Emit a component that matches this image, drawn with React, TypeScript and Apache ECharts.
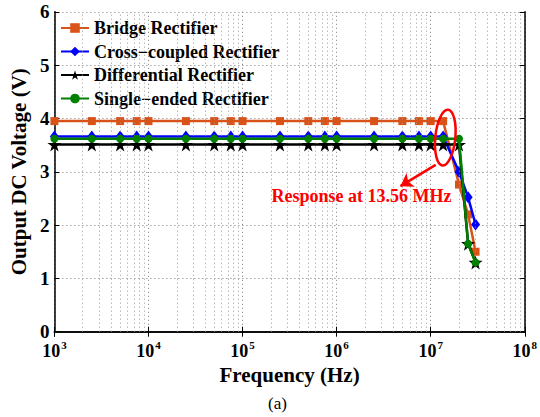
import React, { useEffect, useRef } from "react";
import * as echarts from "echarts";

const frequencies = [1e3, 2.5e3, 5e3, 7.5e3, 1e4, 2.5e4, 5e4, 7.5e4, 1e5, 2.5e5, 5e5, 7.5e5, 1e6, 2.5e6, 5e6, 7.5e6, 1e7, 1.356e7, 2e7, 2.5e7, 3e7];
const bridge = [3.95, 3.95, 3.95, 3.95, 3.95, 3.95, 3.95, 3.95, 3.95, 3.95, 3.95, 3.95, 3.95, 3.95, 3.95, 3.95, 3.95, 3.95, 2.76, 2.2, 1.5];
const crossCoupled = [3.66, 3.66, 3.66, 3.66, 3.66, 3.66, 3.66, 3.66, 3.66, 3.66, 3.66, 3.66, 3.66, 3.66, 3.66, 3.66, 3.66, 3.66, 3.0, 2.52, 2.01];
const differential = [3.51, 3.51, 3.51, 3.51, 3.51, 3.51, 3.51, 3.51, 3.51, 3.51, 3.51, 3.51, 3.51, 3.51, 3.51, 3.51, 3.51, 3.51, 3.51, 1.65, 1.3];
const singleEnded = [3.62, 3.62, 3.62, 3.62, 3.62, 3.62, 3.62, 3.62, 3.62, 3.62, 3.62, 3.62, 3.62, 3.62, 3.62, 3.62, 3.62, 3.62, 3.62, 1.65, 1.3];

const seriesNames = ["Bridge Rectifier", "Cross\u2212coupled Rectifier", "Differential Rectifier", "Single\u2212ended Rectifier"];
const minorGrid = [
  2e3, 3e3, 4e3, 5e3, 6e3, 7e3, 8e3, 9e3,
  2e4, 3e4, 4e4, 5e4, 6e4, 7e4, 8e4, 9e4,
  2e5, 3e5, 4e5, 5e5, 6e5, 7e5, 8e5, 9e5,
  2e6, 3e6, 4e6, 5e6, 6e6, 7e6, 8e6, 9e6,
  2e7, 3e7, 4e7, 5e7, 6e7, 7e7, 8e7, 9e7,
];

const FONT = "Liberation Serif";
const STAR = "path://M50,0 L61,35 L98,35 L68,57 L79,91 L50,70 L21,91 L32,57 L2,35 L39,35 Z";

const gridLine = { color: "#777", type: [1, 3] as number[], width: 1 };

export default function App() {
  const ref = useRef<HTMLDivElement>(null);
  useEffect(() => {
    if (!ref.current) return;
    const chart = echarts.init(ref.current, undefined, { renderer: "svg" });
    const mk = (vals: number[]) => frequencies.map((f, i) => [f, vals[i]]);
    const option: any = {
      animation: false,
      backgroundColor: "#fff",
      grid: { left: 45, right: 12.3, top: 11.8, bottom: 85.3 },
      legend: {
        orient: "vertical",
        left: 60,
        top: 19,
        padding: 0,
        itemWidth: 28,
        itemHeight: 12,
        itemGap: 5.5,
        data: seriesNames,
        textStyle: { fontFamily: FONT, fontWeight: "bold", fontSize: 18, color: "#000", lineHeight: 18 },
      },
      xAxis: [
        {
          type: "log",
          logBase: 10,
          min: 1e3,
          max: 1e8,
          name: "Frequency (Hz)",
          nameLocation: "middle",
          nameGap: 23,
          nameTextStyle: { fontFamily: FONT, fontWeight: "bold", fontSize: 21, color: "#000" },
          axisLine: { show: true, lineStyle: { color: "#000", width: 1.5 } },
          axisTick: { show: true, inside: true, length: 5, lineStyle: { color: "#000" } },
          splitLine: { show: true, lineStyle: gridLine },
          axisLabel: {
            margin: 8,
            formatter: (v: number) => `{b|10}{s|${Math.round(Math.log10(v))}}`,
            rich: {
              b: { fontFamily: FONT, fontWeight: "bold", fontSize: 18, color: "#000", lineHeight: 20, verticalAlign: "bottom" },
              s: { fontFamily: FONT, fontWeight: "bold", fontSize: 11, color: "#000", lineHeight: 20, verticalAlign: "top", padding: [0, 0, 0, 1] },
            },
          },
        },
        {
          type: "log",
          logBase: 10,
          min: 1e3,
          max: 1e8,
          position: "top",
          axisLine: { show: true, lineStyle: { color: "#000", width: 1.5 } },
          axisTick: { show: true, inside: true, length: 5, lineStyle: { color: "#000" } },
          axisLabel: { show: false },
          splitLine: { show: false },
        },
      ],
      yAxis: [
        {
          type: "value",
          min: 0,
          max: 6,
          interval: 1,
          name: "Output DC Voltage (V)",
          nameLocation: "middle",
          nameGap: 21,
          nameTextStyle: { fontFamily: FONT, fontWeight: "bold", fontSize: 21, color: "#000" },
          axisLine: { show: true, lineStyle: { color: "#000", width: 1.5 } },
          axisTick: { show: true, inside: true, length: 5, lineStyle: { color: "#000" } },
          splitLine: { show: true, lineStyle: gridLine },
          axisLabel: { fontFamily: FONT, fontWeight: "bold", fontSize: 19, color: "#000", margin: 5 },
        },
        {
          type: "value",
          min: 0,
          max: 6,
          interval: 1,
          position: "right",
          axisLine: { show: true, lineStyle: { color: "#000", width: 1.5 } },
          axisTick: { show: true, inside: true, length: 5, lineStyle: { color: "#000" } },
          axisLabel: { show: false },
          splitLine: { show: false },
        },
      ],
      series: [
        {
          type: "line",
          name: "__grid",
          data: [],
          z: 1,
          silent: true,
          markLine: {
            silent: true,
            symbol: ["none", "none"],
            label: { show: false },
            lineStyle: { color: "#999", type: [1, 3], width: 1 },
            data: minorGrid.map((v) => ({ xAxis: v })),
          },
        },
        {
          type: "line",
          name: seriesNames[0],
          data: mk(bridge),
          symbol: "rect",
          symbolSize: 8,
          color: "#D95319",
          lineStyle: { width: 2.5 },
          z: 3,
        },
        {
          type: "line",
          name: seriesNames[1],
          data: mk(crossCoupled),
          symbol: "diamond",
          symbolSize: [9, 12],
          color: "#0000FF",
          lineStyle: { width: 2.5 },
          z: 4,
        },
        {
          type: "line",
          name: seriesNames[2],
          data: mk(differential),
          symbol: STAR,
          symbolSize: 14,
          color: "#000000",
          lineStyle: { width: 2.5 },
          z: 5,
        },
        {
          type: "line",
          name: seriesNames[3],
          data: mk(singleEnded),
          symbol: "circle",
          symbolSize: 8,
          color: "#008000",
          lineStyle: { width: 2.5 },
          z: 6,
          markLine: {
            silent: true,
            symbol: ["none", "arrow"],
            symbolSize: 12,
            label: { show: false },
            lineStyle: { color: "#FF0000", type: "solid", width: 2.5 },
            data: [[{ coord: [1.13e7, 3.13] }, { coord: [4.77e6, 2.73] }]],
          },
        },
      ],
    };
    chart.setOption(option);

    const c = chart.convertToPixel({ xAxisIndex: 0, yAxisIndex: 0 }, [1.43e7, 3.64]) as number[];
    const t = chart.convertToPixel({ xAxisIndex: 0, yAxisIndex: 0 }, [1.84e6, 2.55]) as number[];
    chart.setOption({
      graphic: [
        {
          type: "ellipse",
          x: c[0],
          y: c[1],
          rotation: -0.1,
          shape: { cx: 0, cy: 0, rx: 10, ry: 28 },
          style: { fill: "none", stroke: "#FF0000", lineWidth: 2.5 },
          z: 100,
        },
        {
          type: "text",
          x: t[0],
          y: t[1],
          style: {
            text: "Response at 13.56 MHz",
            fill: "#FF0000",
            font: `bold 18px ${FONT}`,
            textAlign: "center",
            textVerticalAlign: "middle",
          },
          z: 100,
        },
        {
          type: "text",
          left: 268,
          top: 395,
          style: { text: "(a)", fill: "#000", font: `17px ${FONT}` },
        },
      ],
    });
    return () => chart.dispose();
  }, []);
  return <div ref={ref} style={{ position: "fixed", left: 0, top: 0, width: 540, height: 417 }} />;
}
